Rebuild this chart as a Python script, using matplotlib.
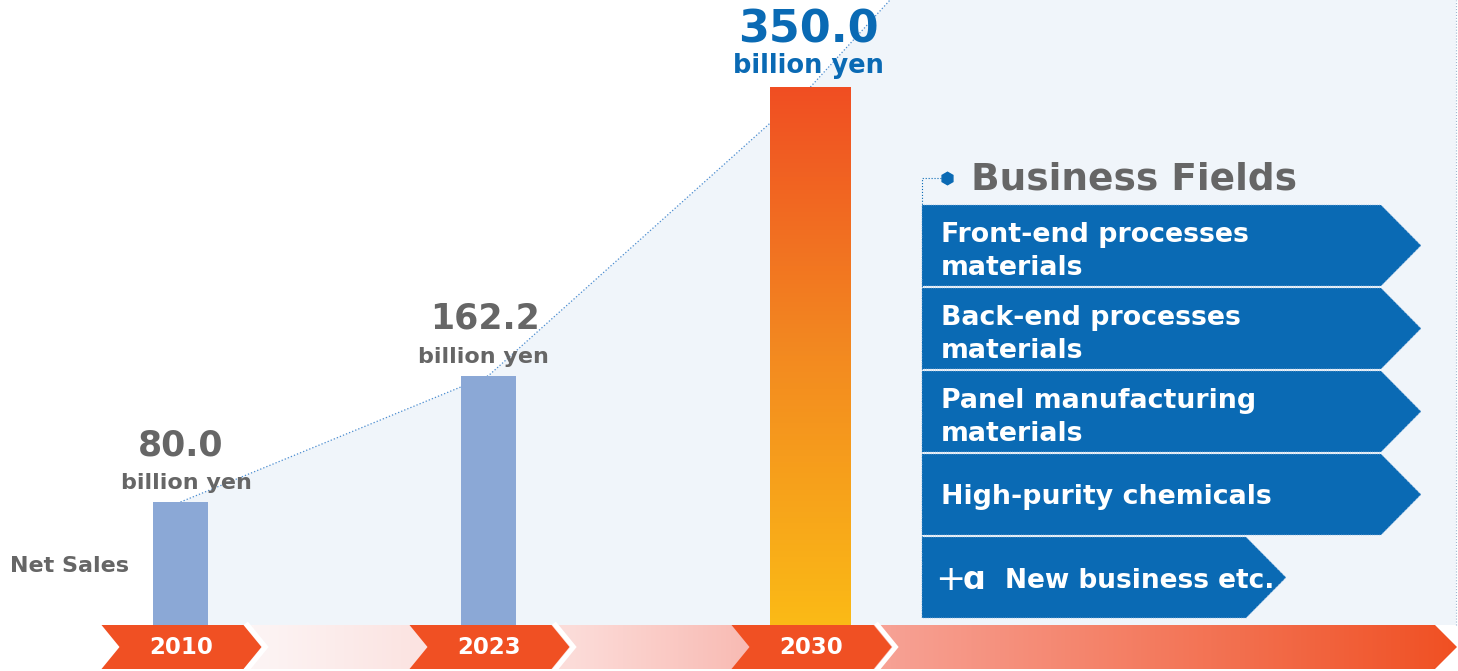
import numpy as np
import matplotlib
matplotlib.use('Agg')
import matplotlib.pyplot as plt
from matplotlib.patches import Polygon
from matplotlib.colors import LinearSegmentedColormap

# data
years = ['2010', '2023', '2030']
net_sales = [80.0, 162.2, 350.0]
unit = 'billion yen'
fields = ['Front-end processes\nmaterials',
          'Back-end processes\nmaterials',
          'Panel manufacturing\nmaterials',
          'High-purity chemicals']
extra_field = 'New business etc.'

# layout (pixels)
W, H = 1458, 671
x_pos = [180.5, 488.5, 810.5]
bar_w = [55, 55, 81]
num_dx = [0, -3, -2]
unit_dx = [6, -5, -2]
BASE = 625          # baseline row
PX = 1.5375         # pixels per billion yen

GRAY = '#666666'
BLUE = '#0A6AB4'
RED = '#F05023'
SHADE = '#F0F5FA'

plt.rcParams['font.family'] = 'DejaVu Sans'
fig = plt.figure(figsize=(W / 100, H / 100), dpi=100)
ax = fig.add_axes([0, 0, 1, 1])


def Y(p):
    return (BASE - p) / PX


ax.set_xlim(0, W)
ax.set_ylim(Y(H), Y(0))
ax.axis('off')
ytop = Y(0)

# shaded area under the growth line
ext_x = 890
line_x = list(x_pos) + [ext_x]
line_y = list(net_sales) + [ytop]
shade = Polygon(list(zip(line_x, line_y)) + [(W - 2, ytop), (W - 2, 0), (x_pos[0], 0)],
                closed=True, facecolor=SHADE, edgecolor='none', zorder=0)
ax.add_patch(shade)
ax.plot(line_x, line_y, color='#4A8CD0', lw=0.9, ls=':', zorder=1)
ax.plot([W - 2, W - 2], [0, ytop], color='#9DB5CF', lw=0.8, ls=':', zorder=1)

# bars
bars = ax.bar(x_pos, net_sales, width=bar_w, color=['#8BA8D6', '#8BA8D6', 'none'],
              zorder=3)
b = bars[2]
grad = LinearSegmentedColormap.from_list('g', ['#FBBA16', '#F38A20', '#F04E23'])
img = ax.imshow(np.linspace(0, 1, 256).reshape(-1, 1), cmap=grad, aspect='auto',
                origin='lower', extent=[b.get_x(), b.get_x() + b.get_width(), 0, b.get_height()],
                zorder=3)
img.set_clip_path(b)

# value labels
for i, (x, v) in enumerate(zip(x_pos, net_sales)):
    if i == 2:
        ax.text(x + num_dx[i], v + 44 / PX, f'{v:.1f}', ha='center', va='baseline',
                fontsize=32, fontweight='bold', color=BLUE, zorder=5)
        ax.text(x + unit_dx[i], v + 14 / PX, unit, ha='center', va='baseline',
                fontsize=18.5, fontweight='bold', color=BLUE, zorder=5)
    else:
        ax.text(x + num_dx[i], v + 47 / PX, f'{v:.1f}', ha='center', va='baseline',
                fontsize=25, fontweight='bold', color=GRAY, zorder=5)
        ax.text(x + unit_dx[i], v + 13 / PX, unit, ha='center', va='baseline',
                fontsize=16, fontweight='bold', color=GRAY, zorder=5)

ax.text(10, Y(566), 'Net Sales', ha='left', va='center', fontsize=16,
        fontweight='bold', color=GRAY)

# timeline band with gradient
y0, y1, ym = Y(669), Y(625), Y(647)
stops = [(250, '#FDF5F5'), (408, '#FBE4E2'), (570, '#FCDCD9'), (730, '#F9BEB7'),
         (890, '#F7A194'), (1457, RED)]
cm = LinearSegmentedColormap.from_list(
    'band', [((s - 250) / (1457 - 250), c) for s, c in stops])
band = Polygon([(250, y1), (1435, y1), (1457, ym), (1435, y0), (250, y0)],
               closed=True, facecolor='none', edgecolor='none')
ax.add_patch(band)
bimg = ax.imshow(np.linspace(0, 1, 512).reshape(1, -1), cmap=cm, aspect='auto',
                 extent=[250, 1457, y0, y1], zorder=2)
bimg.set_clip_path(band)

for x, yr in zip(x_pos, years):
    l, r = x - 79, x + 81
    chev = Polygon([(l, y1), (r - 18, y1), (r, ym), (r - 18, y0), (l, y0), (l + 18, ym)],
                   closed=True, facecolor=RED, edgecolor='none', zorder=4)
    ax.add_patch(chev)
    ax.plot([r - 14, r + 4, r - 14], [y1, ym, y0], color='white', lw=3.5,
            solid_joinstyle='miter', zorder=4)
    ax.text(x + 1, ym, yr, ha='center', va='center', fontsize=16.5,
            fontweight='bold', color='white', zorder=5)

# business fields
ax.text(971, Y(179), 'Business Fields', ha='left', va='center', fontsize=27,
        fontweight='bold', color=GRAY)
ax.plot([947], [Y(178)], marker='h', markersize=9, color=BLUE, zorder=6)
ax.plot([941, 922, 922], [Y(178), Y(178), Y(618)], color=BLUE, lw=0.8, ls=':', zorder=6)

box_left = 922
labels = fields + [extra_field]
for i, lab in enumerate(labels):
    top = 205 + i * 83
    bot = top + 81
    mid = (top + bot) / 2
    body = 1381 if i < len(fields) else 1246
    tip = body + 40
    poly = Polygon([(box_left, Y(top)), (body, Y(top)), (tip, Y(mid)),
                    (body, Y(bot)), (box_left, Y(bot))], closed=True,
                   facecolor=BLUE, edgecolor='#8FB5DD', lw=0.6, ls=':', zorder=5)
    ax.add_patch(poly)
    if i < len(fields):
        dy = 6 if '\n' in lab else 3
        ax.text(941, Y(mid + dy), lab, ha='left', va='center', fontsize=19.3,
                fontweight='bold', color='white', linespacing=1.32, zorder=6)
    else:
        ax.text(935, Y(mid + 3), '+', ha='left', va='center', fontsize=26,
                color='white', zorder=6)
        ax.text(963, Y(mid + 3), 'ɑ', ha='left', va='center', fontsize=23,
                fontweight='bold', color='white', zorder=6)
        ax.text(1005, Y(mid + 3), lab, ha='left', va='center', fontsize=19,
                fontweight='bold', color='white', zorder=6)

fig.savefig('out.png', dpi=100, facecolor='white')
